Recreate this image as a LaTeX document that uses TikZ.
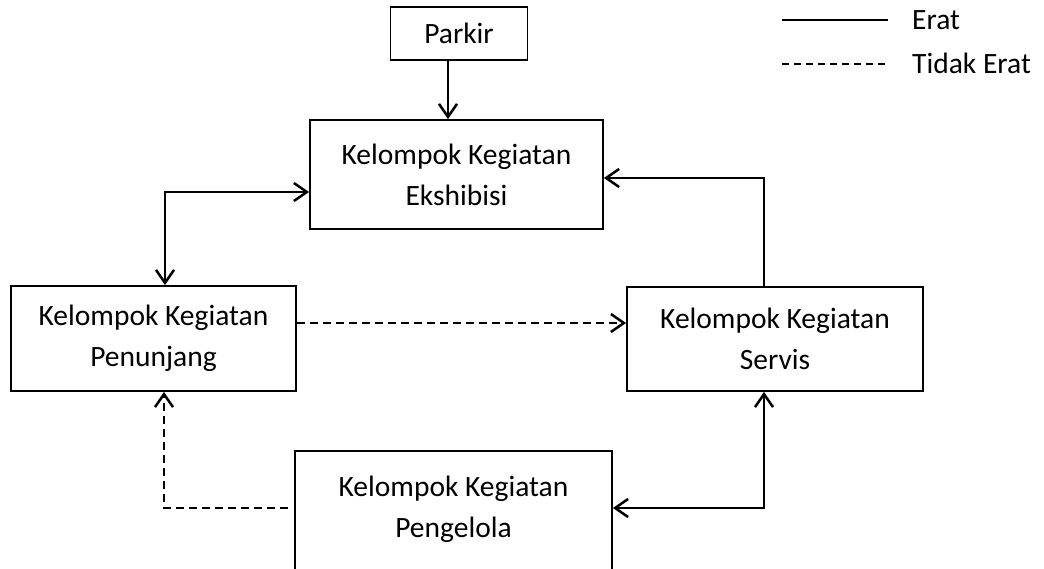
\documentclass[tikz,border=0pt]{standalone}
\usepackage{fontspec}
\setmainfont{Carlito}
\usetikzlibrary{arrows.meta,calc}
\begin{document}
\begin{tikzpicture}[x=1pt,y=-1pt,
  box/.style={draw, line width=1.8pt, align=center, inner sep=0pt, font=\fontsize{29.5}{41}\selectfont},
  label/.style={align=center, inner sep=0pt, font=\fontsize{29.5}{41}\selectfont},
  link/.style={line width=2.5pt},
  weak/.style={line width=2.5pt, dash pattern=on 8pt off 5pt},
  tip/.style={-{Straight Barb[length=13pt,width=18pt]}},
  tips/.style={{Straight Barb[length=13pt,width=18pt]}-{Straight Barb[length=13pt,width=18pt]}}
]
\useasboundingbox (0,0) rectangle (1044,569);
\clip (0,0) rectangle (1044,569);

% boxes
\node[box, minimum width=137pt, minimum height=53pt] (parkir) at (459,33.5) {Parkir};
\node[box, minimum width=293pt, minimum height=109pt] (ekshibisi) at (456.5,174.5) {Kelompok Kegiatan\\Ekshibisi};
\node[box, minimum width=285pt, minimum height=105pt] (penunjang) at (153.5,338.5) {Kelompok Kegiatan\\Penunjang};
\node[box, minimum width=296pt, minimum height=104pt] (servis) at (775,339) {Kelompok Kegiatan\\Servis};
\node[draw, line width=1.8pt, minimum width=317pt, minimum height=138pt, inner sep=0pt] (pengelolabox) at (453.5,520) {};
\node[label] (pengelola) at (453.5,509) {Kelompok Kegiatan\\Pengelola};

% connectors
\draw[link,tip] ([xshift=-11pt]parkir.south) -- ([xshift=-11pt]parkir.south |- ekshibisi.north);

\coordinate (c1) at (165,192);
\draw[link,tips] (c1 |- penunjang.north) -- (c1) -- (c1 -| ekshibisi.west);

\coordinate (c2) at (764,178);
\draw[link,tip] (c2 |- servis.north) -- (c2) -- (c2 -| ekshibisi.east);

\coordinate (c3) at (460,323);
\draw[weak,tip] (penunjang.east |- c3) -- (servis.west |- c3);

\coordinate (c4) at (764,508);
\draw[link,tips] (c4 -| pengelolabox.east) -- (c4) -- (c4 |- servis.south);

\coordinate (c5) at (164,508);
\coordinate (c5e) at (288,508);
\draw[weak,tip] (c5e) -- (c5) -- (c5 |- penunjang.south);

% legend
\coordinate (l1a) at (782,20);
\coordinate (l1b) at (888,20);
\coordinate (l2a) at (782,64);
\coordinate (l2b) at (888,64);
\draw[line width=2.2pt] (l1a) -- (l1b);
\draw[line width=2.2pt, dash pattern=on 7pt off 5pt] (l2a) -- (l2b);
\node[label, anchor=west] (erat) at (912,20) {Erat};
\node[label, anchor=west] (tidakerat) at (912,63) {Tidak Erat};
\end{tikzpicture}
\end{document}
